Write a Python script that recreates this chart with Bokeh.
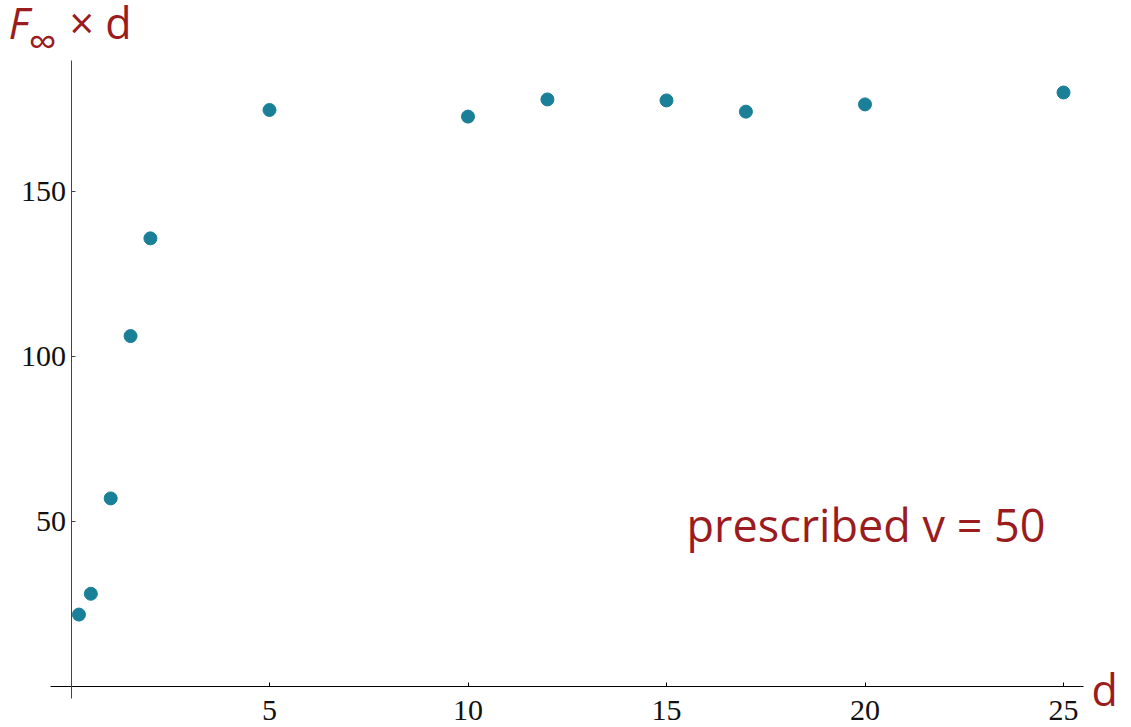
from bokeh.plotting import figure
from bokeh.models import FixedTicker, Label
from bokeh.embed import file_html
from bokeh.resources import INLINE

# data
d_values = [0.2, 0.5, 1.0, 1.5, 2.0, 5, 10, 12, 15, 17, 20, 25]
f_times_d = [21.8, 28.1, 57.0, 106.2, 135.8, 174.7, 172.7, 177.9, 177.6, 174.2, 176.4, 180.0]
x_ticks = [5, 10, 15, 20, 25]
y_ticks = [50, 100, 150]

RED = "#9b1c20"
TEAL = "#1a8097"

W, H = 1131, 727
# pixel position of the data origin and scale
OX, OY = 70.5, 686.0
KX, KY = 39.7, 3.3

x_start, x_end = (0 - OX) / KX, (W - OX) / KX
y_start, y_end = (OY - H) / KY, (OY - 0) / KY

p = figure(width=W, height=H, x_range=(x_start, x_end), y_range=(y_start, y_end),
           output_backend="svg", toolbar_location=None,
           min_border_left=0, min_border_right=0, min_border_top=0, min_border_bottom=0)
p.outline_line_color = None
p.xgrid.grid_line_color = None
p.ygrid.grid_line_color = None
p.background_fill_color = "white"
p.border_fill_color = "white"

p.xaxis.fixed_location = 0
p.yaxis.fixed_location = 0
p.xaxis.bounds = (-0.52, 25.5)
p.yaxis.bounds = (-3.6, 189.7)
p.xaxis.ticker = FixedTicker(ticks=x_ticks)
p.yaxis.ticker = FixedTicker(ticks=y_ticks)
for ax in (p.xaxis[0], p.yaxis[0]):
    ax.major_tick_in = 4
    ax.major_tick_out = 0
    ax.minor_tick_line_color = None
    ax.axis_line_width = 1
    ax.major_tick_line_width = 1
    ax.major_label_text_font = "Liberation Serif"
    ax.major_label_text_font_size = "30px"
    ax.major_label_text_color = "#111111"
p.xaxis.axis_line_color = "black"
p.xaxis.major_tick_line_color = "black"
p.yaxis.axis_line_color = "#444444"
p.yaxis.major_tick_line_color = "#444444"
p.xaxis.major_label_standoff = 14
p.yaxis.major_label_standoff = 5

p.scatter(d_values, f_times_d, size=13, color=TEAL, line_color=TEAL)


def dx(px):
    return (px - OX) / KX


def dy(py):
    return (OY - py) / KY


def lab(text, px, py, size, style="normal"):
    p.add_layout(Label(x=dx(px), y=dy(py), text=text, text_font="Open Sans",
                       text_font_size=size, text_font_style=style, text_color=RED,
                       text_baseline="alphabetic", text_align="left"))


lab("F", 8, 22, "43px", "italic")
lab("\u221e", 28, 40, "40px")
lab("\u00d7 d", 69, 22, "43px")
lab("d", 1091, 689, "43px")
lab("prescribed v = 50", 686, 524, "45px")

open("out.html", "w").write(file_html(p, INLINE))
